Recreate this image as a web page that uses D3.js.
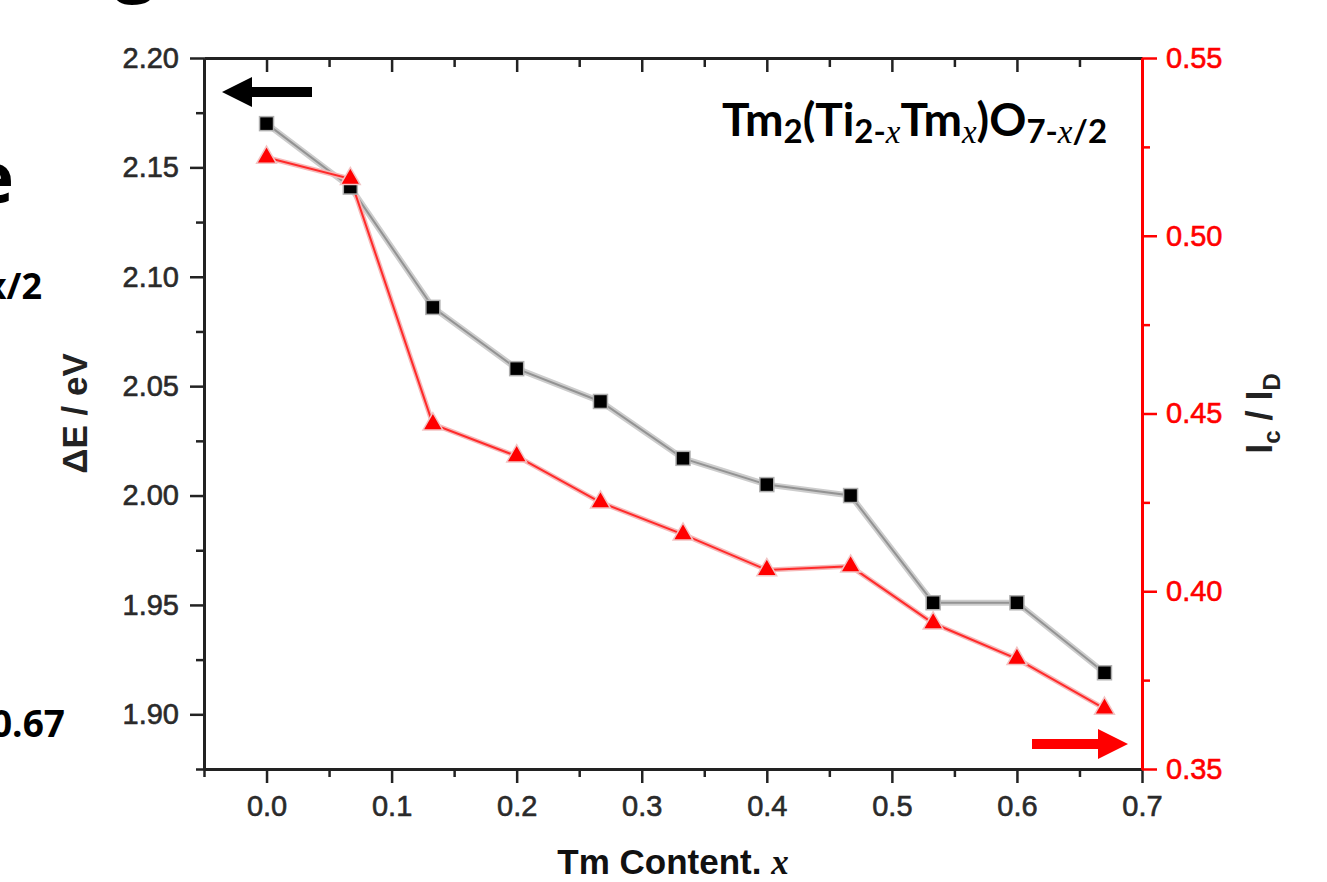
<!DOCTYPE html>
<html>
<head>
<meta charset="utf-8">
<script src="https://cdn.jsdelivr.net/npm/d3@7"></script>
<style>
  body { margin: 0; background: #fff; }
  svg { display: block; }
  .tick text { font-family: "Liberation Sans", Arial, sans-serif; font-size: 29px; }
</style>
</head>
<body>
<svg id="chart"></svg>
<script>
const WIDTH = 1327;
const HEIGHT = 882;

// Tm content x and the two measured series
const tmContent = [0, 0.067, 0.133, 0.2, 0.267, 0.333, 0.4, 0.467, 0.533, 0.6, 0.67];
const deltaE = [2.170, 2.141, 2.086, 2.058, 2.043, 2.017, 2.005, 2.000, 1.951, 1.951, 1.919];
const intensityRatio = [0.522, 0.516, 0.447, 0.438, 0.425, 0.416, 0.406, 0.407, 0.391, 0.381, 0.367];

// tick values
const xTicks = [0, 0.1, 0.2, 0.3, 0.4, 0.5, 0.6, 0.7];
const xMinor = [-0.05, 0.05, 0.15, 0.25, 0.35, 0.45, 0.55, 0.65];
const leftTicks = [1.90, 1.95, 2.00, 2.05, 2.10, 2.15, 2.20];
const leftMinor = [1.875, 1.925, 1.975, 2.025, 2.075, 2.125, 2.175];
const rightTicks = [0.35, 0.40, 0.45, 0.50, 0.55];
const rightMinor = [0.375, 0.425, 0.475, 0.525];

const margin = {top: 58, right: 185, bottom: 113, left: 204};

const svg = d3.select("#chart")
    .attr("width", WIDTH)
    .attr("height", HEIGHT);

const x = d3.scaleLinear().domain([-0.05, 0.7]).range([margin.left, WIDTH - margin.right]);
const yL = d3.scaleLinear().domain([1.875, 2.20]).range([HEIGHT - margin.bottom, margin.top]);
const yR = d3.scaleLinear().domain([0.35, 0.55]).range([HEIGHT - margin.bottom, margin.top]);

const x0 = x.range()[0], x1 = x.range()[1];
const y0 = yL.range()[0], y1 = yL.range()[1];

function styleAxis(g, color) {
  const txt = color === "#222" ? "#2a2a2a" : color;
  g.select(".domain").attr("stroke", color).attr("stroke-width", 3);
  g.selectAll(".tick line").attr("stroke", color).attr("stroke-width", 2.5);
  g.selectAll(".tick text").attr("fill", txt).attr("stroke", txt).attr("stroke-width", 0.6);
}

// bottom axis
svg.append("g")
    .attr("transform", `translate(0,${y0})`)
    .call(d3.axisBottom(x).tickValues(xTicks).tickSize(14).tickSizeOuter(0).tickPadding(12).tickFormat(d3.format(".1f")))
    .call(g => styleAxis(g, "#222"));
svg.append("g")
    .attr("transform", `translate(0,${y0})`)
    .call(d3.axisBottom(x).tickValues(xMinor).tickSize(8).tickSizeOuter(0).tickFormat(""))
    .call(g => styleAxis(g, "#222"));

// top axis, ticks pointing inward
svg.append("g")
    .attr("transform", `translate(0,${y1})`)
    .call(d3.axisTop(x).tickValues(xTicks).tickSize(-14).tickSizeOuter(0).tickFormat(""))
    .call(g => styleAxis(g, "#222"));
svg.append("g")
    .attr("transform", `translate(0,${y1})`)
    .call(d3.axisTop(x).tickValues(xMinor.slice(1)).tickSize(-9).tickSizeOuter(0).tickFormat(""))
    .call(g => styleAxis(g, "#222"));

// left axis
svg.append("g")
    .attr("transform", `translate(${x0},0)`)
    .call(d3.axisLeft(yL).tickValues(leftTicks).tickSize(14).tickSizeOuter(0).tickPadding(11).tickFormat(d3.format(".2f")))
    .call(g => styleAxis(g, "#222"));
svg.append("g")
    .attr("transform", `translate(${x0},0)`)
    .call(d3.axisLeft(yL).tickValues(leftMinor).tickSize(8).tickSizeOuter(0).tickFormat(""))
    .call(g => styleAxis(g, "#222"));

// right axis (red)
svg.append("g")
    .attr("transform", `translate(${x1},0)`)
    .call(d3.axisRight(yR).tickValues(rightTicks).tickSize(15).tickSizeOuter(0).tickPadding(9).tickFormat(d3.format(".2f")))
    .call(g => styleAxis(g, "#ff0000"));
svg.append("g")
    .attr("transform", `translate(${x1},0)`)
    .call(d3.axisRight(yR).tickValues(rightMinor).tickSize(8).tickSizeOuter(0).tickFormat(""))
    .call(g => styleAxis(g, "#ff0000"));

// series
const ePts = tmContent.map((t, i) => [t, deltaE[i]]);
const rPts = tmContent.map((t, i) => [t, intensityRatio[i]]);

const lineE = d3.line().x(d => x(d[0])).y(d => yL(d[1]));
const lineR = d3.line().x(d => x(d[0])).y(d => yR(d[1]));

svg.append("path").datum(ePts).attr("d", lineE)
    .attr("fill", "none").attr("stroke", "#cdcdcd").attr("stroke-width", 6);
svg.append("path").datum(ePts).attr("d", lineE)
    .attr("fill", "none").attr("stroke", "#939393").attr("stroke-width", 2);

svg.append("path").datum(rPts).attr("d", lineR)
    .attr("fill", "none").attr("stroke", "#f6b8b8").attr("stroke-width", 5);
svg.append("path").datum(rPts).attr("d", lineR)
    .attr("fill", "none").attr("stroke", "#ff2a2a").attr("stroke-width", 2);

svg.append("g").selectAll("rect")
    .data(ePts)
    .join("rect")
    .attr("x", d => x(d[0]) - 7)
    .attr("y", d => yL(d[1]) - 7)
    .attr("width", 14)
    .attr("height", 14)
    .attr("fill", "#000")
    .attr("stroke", "#b0b0b0")
    .attr("stroke-width", 1.5);

const tri = d3.symbol().type(d3.symbolTriangle).size(170);
svg.append("g").selectAll("path")
    .data(rPts)
    .join("path")
    .attr("d", tri)
    .attr("transform", d => `translate(${x(d[0])},${yR(d[1])})`)
    .attr("fill", "#ff0000")
    .attr("stroke", "#f2c4c4")
    .attr("stroke-width", 1.5);

// arrows telling which axis each series uses
function arrow(tipX, tipY, len, dir, color) {
  const h = 30, head = 30, shaft = 10;
  const s = dir;  // -1 points left, +1 points right
  const pts = [
    [tipX, tipY],
    [tipX - s * head, tipY - h / 2],
    [tipX - s * head, tipY - shaft / 2],
    [tipX - s * len, tipY - shaft / 2],
    [tipX - s * len, tipY + shaft / 2],
    [tipX - s * head, tipY + shaft / 2],
    [tipX - s * head, tipY + h / 2]
  ];
  svg.append("path").attr("d", d3.line()(pts) + "Z").attr("fill", color);
}
arrow(x0 + 18, y1 + 34, 90, -1, "#000");
arrow(x1 - 14, y0 - 25, 96, 1, "#ff0000");

// axis titles
svg.append("text")
    .attr("transform", `translate(87,${(y0 + y1) / 2}) rotate(-90)`)
    .attr("text-anchor", "middle")
    .style("font", "bold 35px 'Liberation Sans', Arial, sans-serif")
    .attr("fill", "#222")
    .text("ΔE / eV");

const rt = svg.append("text")
    .attr("transform", `translate(1272,${(y0 + y1) / 2}) rotate(-90)`)
    .attr("text-anchor", "middle")
    .style("font", "bold 36px 'Liberation Sans', Arial, sans-serif")
    .attr("fill", "#222");
rt.append("tspan").text("I");
rt.append("tspan").attr("dy", 8).style("font-size", "24px").text("c");
rt.append("tspan").attr("dy", -8).text(" / I");
rt.append("tspan").attr("dy", 8).style("font-size", "24px").text("D");

const xt = svg.append("text")
    .attr("x", (x0 + x1) / 2)
    .attr("y", 874)
    .attr("text-anchor", "middle")
    .style("font", "bold 35px 'Liberation Sans', Arial, sans-serif")
    .attr("fill", "#111");
xt.append("tspan").text("Tm Content. ");
xt.append("tspan").style("font", "italic bold 35px 'Liberation Serif', serif").text("x");

// formula label
const f = svg.append("text")
    .attr("x", 722)
    .attr("y", 136)
    .style("font", "bold 46px Lato, 'Open Sans', sans-serif")
    .attr("fill", "#000");
const sub = 33, dn = 7;
f.append("tspan").text("Tm");
f.append("tspan").attr("dy", dn).style("font-size", sub + "px").text("2");
f.append("tspan").attr("dy", -dn).text("(Ti");
f.append("tspan").attr("dy", dn).style("font-size", sub + "px").text("2-");
f.append("tspan").style("font", `italic ${sub}px 'Liberation Serif', serif`).text("x");
f.append("tspan").attr("dy", -dn).text("Tm");
f.append("tspan").attr("dy", dn).style("font", `italic ${sub}px 'Liberation Serif', serif`).text("x");
f.append("tspan").attr("dy", -dn).text(")O");
f.append("tspan").attr("dy", dn).style("font-size", sub + "px").text("7-");
f.append("tspan").style("font", `italic ${sub}px 'Liberation Serif', serif`).text("x");
f.append("tspan").style("font-size", sub + "px").text("/2");

// fragments of the neighbouring panel, cut by the image edge
const frag = "'Open Sans', sans-serif";
svg.append("text").attr("x", 14).attr("y", 203).attr("text-anchor", "end")
    .style("font", `bold 72px ${frag}`).text("e");
svg.append("text").attr("x", 42).attr("y", 299).attr("text-anchor", "end")
    .style("font", `bold 36px ${frag}`).text("x/2");
svg.append("text").attr("x", 65).attr("y", 737).attr("text-anchor", "end")
    .style("font", `bold 37px ${frag}`).text("0.67");
svg.append("text").attr("x", 135).attr("y", -12).attr("text-anchor", "middle")
    .style("font", `bold 72px ${frag}`).text("g");
</script>
</body>
</html>
